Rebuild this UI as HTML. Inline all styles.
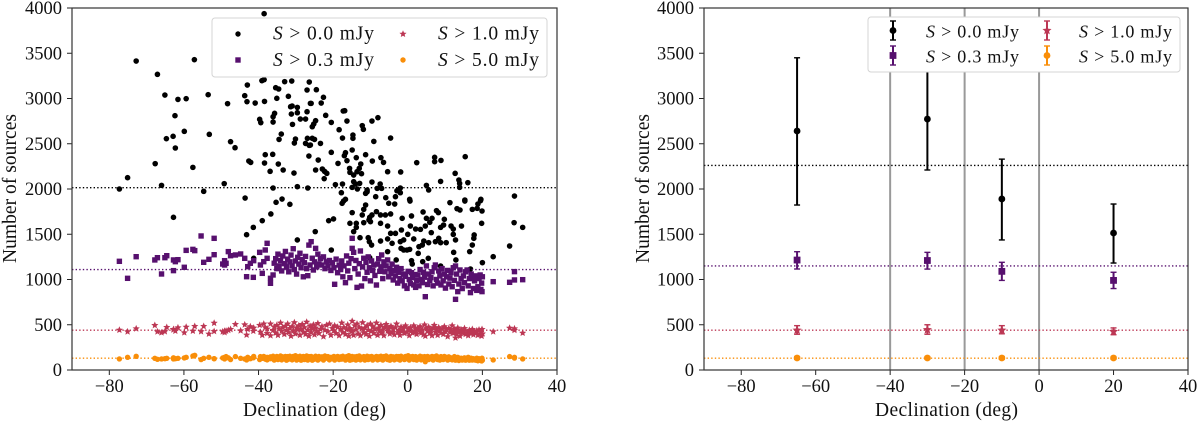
<!DOCTYPE html>
<html>
<head>
<meta charset="utf-8">
<title>Number of sources vs declination</title>
<style>
html,body{margin:0;padding:0;background:#fff;width:1200px;height:424px;overflow:hidden}
svg{display:block}
text{font-family:"Liberation Serif",serif;fill:#111}
</style>
</head>
<body>
<svg id="fig" width="1200" height="424" viewBox="0 0 1200 424" xmlns="http://www.w3.org/2000/svg"></svg>
<script>
// ---------- shared tick labels ----------
const xTicks = [-80,-60,-40,-20,0,20,40];
const yTicks = [0,500,1000,1500,2000,2500,3000,3500,4000];
const seriesNames = ['S > 0.0 mJy','S > 0.3 mJy','S > 1.0 mJy','S > 5.0 mJy'];
const thresholds = ['0.0','0.3','1.0','5.0'];
const seriesColors = ['#000000','#57106e','#bc3754','#f98e09'];

// ---------- left panel: black series ----------
const blackDec = [
-38.5,-72.8,-57.2,-67.1,-65.1,-61.6,-59.4,-53.5,-48.3,-43.7,
-43.1,-40.9,-38.4,-43,-39.1,-38.5,-33,-31.1,-26.4,-35.4,
-34.6,-27,-32,-35.1,-26.1,-31.4,-31,-29.6,-29.6,-31.2,
-27,-35.7,-36.1,-36.1,-39.7,-39.4,-28.8,-27.4,-30.9,-62.4,
-59.9,-62.9,-64.7,-62.3,-53.2,-47.5,-46.3,-33.9,-34.5,-26.9,
-30.1,-30.4,-27.4,-26.4,-38.2,-36.2,-26.5,-67.7,-42.6,-42.1,
-38.4,-34.7,-33.4,-36.9,-30.5,-57.6,-75.1,-66,-49.2,-77.3,
-54.7,-36.1,-29.6,-26.8,-43.6,-33.7,-62.8,-35.3,-31.6,-36.7,
-39,-41.4,-43.2,-41.3,-29.6,-24.5,-22.6,-25.9,-23.2,-22,
-20.5,-17.3,-16.9,-16.3,-24.7,-25.2,-25.6,-18.4,-12.2,-11.9,
-9.6,-8,-14.7,-14.7,-17.5,-4.6,-9.1,-25.6,-25,-26.1,
-23.4,-24,-20.5,-14.9,-16.7,-17,-13.8,-11.3,-7.2,-6.5,
-9.5,-16.3,-18.7,2.4,7.2,7.2,8.9,15.4,-12.6,-15.6,
-15.5,-24.7,-22.9,-22.3,-21.7,-22.4,-13,-13.6,-12.4,-14.5,
-5.4,-1.9,12.7,8.8,13.7,13.9,13.9,16.1,-9.6,-19.4,
-17.5,-14.5,-14,-12.9,-14.9,-13.5,-7.4,-8.2,-7,5,
5.6,-2,-2.9,-2,-10.9,-11.3,-17.8,28.6,-8.6,-5.9,
-3.3,0.5,15.3,19.6,-16.7,-10.9,-17.2,-17.6,-11.3,-11.8,
-5.1,-3.5,0.6,11.3,15.3,13.2,14,17.3,18.8,19.5,
18.6,19.9,-14.9,-8.4,-9.6,-10.2,-12.2,-7.3,-6,-4.6,
4.1,7.7,8.2,1,-1.5,6.5,5.9,-21.2,-19.9,-15.5,
-13.8,-11.8,-10.4,-10,-7.3,-5.4,0.7,2.1,3.4,5,
4.7,9.8,9.6,14.4,19.8,11.6,12.2,-13.8,-14.5,-24.8,
-1.7,6.3,8.8,17.8,17.7,17.3,16.6,12.2,12.8,-12.8,
-10.6,-10.3,-9.7,-7.3,-5.4,-4.6,-3.3,-4.2,-2,-1.1,
0,1.6,4.3,5.6,7.4,8.3,8.8,10.3,3.9,3,
-1.8,-0.2,-1.1,0.5,2.8,12.3,12.9,-20.5,-5.4,27.3,
28.5,30.8,22.9,20,-3.1,1,1.2,5.5,4,8.8,
-10.2,16.8];
const blackCounts = [
3937,3414,3429,3267,3038,2990,2998,3042,2943,3031,
2965,2950,2968,3149,3197,3208,3186,3193,3182,3119,
3105,3094,3024,3002,2946,2909,2917,2902,2843,2828,
2854,2836,2799,2740,2770,2733,2773,2773,2714,2810,
2637,2582,2556,2453,2604,2523,2456,2607,2548,2560,
2552,2508,2504,2482,2379,2383,2364,2280,2309,2294,
2287,2276,2210,2195,2176,2239,2125,2040,2059,2000,
1974,2011,2026,2011,1900,1889,1687,1853,1831,1724,
1650,1576,1495,1234,1437,3097,3013,2946,2950,2814,
2736,2862,2865,2751,2755,2718,2688,2655,2700,2659,
2751,2788,2596,2560,2563,2563,2526,2560,2548,2486,
2504,2320,2405,2431,2401,2368,2346,2379,2346,2294,
2309,2313,2283,2291,2350,2302,2316,2357,2276,2228,
2184,2210,2221,2195,2173,2114,2228,2191,2169,2154,
2191,2188,2173,2084,2099,2062,2018,2070,2077,2048,
2055,2081,2055,2062,2018,2000,2055,2007,2007,2040,
1989,2011,1981,1959,1989,1952,1959,1922,1915,1904,
1915,1886,1878,1886,1886,1970,1867,1842,1823,1775,
1842,1834,1867,1849,1867,1783,1768,1775,1834,1871,
1786,1757,1739,1750,1713,1687,1713,1713,1713,1724,
1746,1761,1739,1702,1676,1676,1632,1650,1669,1621,
1621,1628,1658,1639,1621,1591,1591,1558,1554,1676,
1591,1665,1602,1591,1621,1591,1558,1576,1529,1529,
1547,1518,1576,1492,1455,1381,1308,1499,1437,1462,
1462,1418,1381,1425,1448,1510,1510,1400,1418,1437,
1499,1448,1425,1407,1418,1455,1407,1407,1381,1363,
1344,1326,1326,1333,1289,1300,1216,1326,1308,1370,
1628,1576,1252,1186,1216,1208,1171,1234,1197,1149,
1241,1116];

// ---------- left panel: purple, red and orange series ----------
const bandDec = [
-77.3,-75.1,-72.8,-67.8,-67.1,-66.0,-65.1,-64.6,-62.8,-62.8,
-62.3,-61.6,-59.9,-59.4,-57.6,-57.1,-55.4,-54.7,-53.3,-51.9,
-51.9,-49.6,-49.1,-49.1,-48.7,-48.1,-47.5,-46.2,-44.8,-43.7,
-43.2,-42.9,-42.2,-41.4,-41.3,-39.7,-39.5,-39.0,-38.6,-38.2,
-37.7,-37.7,-36.8,-36.8,-36.1,-35.8,-35.4,-35.1,-34.8,-34.5,
-34.1,-33.8,-33.5,-33.1,-32.8,-32.5,-32.2,-31.9,-31.6,-31.3,
-31.0,-30.7,-30.4,-30.1,-29.8,-29.5,-29.2,-28.9,-28.6,-28.3,
-28.0,-27.7,-27.4,-27.1,-26.8,-26.5,-26.2,-25.9,-25.6,-25.3,
-25.0,-24.7,-24.4,-24.1,-23.8,-23.4,-23.0,-22.6,-22.2,-21.8,
-21.4,-21.0,-20.6,-20.2,-19.8,-19.6,-19.2,-18.8,-18.4,-18.0,
-17.7,-17.4,-17.1,-16.7,-16.4,-16.1,-15.8,-15.5,-15.2,-14.9,
-14.9,-14.5,-14.2,-13.9,-13.6,-13.3,-13.0,-12.7,-12.4,-12.1,
-11.8,-11.5,-11.2,-10.9,-10.6,-10.3,-10.0,-9.7,-9.4,-9.1,
-8.8,-8.4,-8.1,-7.8,-7.5,-7.2,-7.0,-6.7,-6.4,-6.1,
-5.8,-5.4,-5.1,-4.8,-4.5,-4.2,-3.9,-3.6,-3.3,-3.0,
-2.7,-2.4,-2.1,-1.8,-1.5,-1.2,-0.9,-0.6,-0.2,0.1,
0.4,0.7,1.0,1.3,1.6,1.9,2.1,2.4,2.7,3.0,
3.3,3.6,3.9,4.2,4.5,4.7,5.0,5.3,5.6,5.9,
6.2,6.5,6.8,7.1,7.4,7.7,8.0,8.3,8.6,8.9,
9.2,9.5,9.8,10.1,10.4,10.7,11.0,11.3,11.6,11.9,
12.2,12.5,12.8,12.8,13.1,13.4,13.7,14.0,14.3,14.6,
14.9,15.2,15.5,15.9,16.2,16.5,16.8,17.0,17.3,17.6,
17.9,18.2,18.5,18.8,19.1,19.4,19.6,19.8,19.9,20.0,
22.9,27.3,28.6,28.6,30.8];
const purpleCounts = [
1201,1013,1252,1216,1241,1061,1241,1263,1216,1098,
1197,1219,1135,1322,1333,1319,1481,1190,1223,1455,
1274,1171,1160,1208,1179,1308,1263,1271,1282,1234,
1031,1142,1179,1024,1208,1300,1160,1068,1197,1326,
1400,1234,1013,958,1050,1180,1230,1120,1280,1150,
1210,1095,1260,1175,1310,1140,1225,1085,1195,1270,
1150,1340,1110,1205,1060,1245,1170,1290,1130,1220,
1030,1185,1255,1120,1042,1380,1160,1418,1235,1105,
1195,1344,1140,1280,1170,1230,1160,1250,1120,1195,
1150,1210,1100,1185,1130,947,1225,1075,1160,1110,
1205,1030,1150,965,1260,1095,1180,1020,1230,1344,
1455,1300,1120,1210,913,1060,1175,1315,928,1140,
1235,1010,1190,1080,1250,1130,985,1205,1100,1160,
1045,939,1170,1230,1090,1140,1271,1010,1195,1085,
1150,1216,1030,1120,1065,1170,995,1100,1040,1135,
960,1080,1010,1120,985,1060,930,1035,902,1090,
1000,955,1075,1020,940,1055,913,990,1050,930,
1110,1000,965,1080,1025,810,1150,945,1060,990,
1020,1085,930,1130,1160,1000,960,1095,1040,940,
1120,985,1060,905,1030,1100,950,1015,1075,920,
1130,990,1149,781,1060,866,950,1105,1010,900,
1040,965,1085,1105,930,1010,855,1060,1031,900,
985,1040,880,920,1010,1050,890,960,866,1030,
976,969,1087,995,998];
const redCounts = [
442,424,457,494,424,413,425,472,450,445,
431,468,413,475,431,483,425,483,398,519,
427,424,415,430,432,440,450,505,435,501,
387,450,480,430,465,495,420,385,510,470,
405,455,380,510,440,475,410,495,385,455,
520,430,470,395,485,440,510,415,460,375,
480,435,525,400,465,445,490,385,450,505,
420,470,395,530,440,375,485,415,455,500,
390,465,430,515,405,450,480,370,440,495,
425,510,385,460,435,490,405,475,380,450,
520,415,470,395,445,500,375,460,425,540,
430,385,490,445,510,400,470,380,455,525,
415,465,395,490,440,375,510,430,480,405,
450,520,385,465,425,495,410,445,380,475,
505,430,460,400,485,420,450,390,470,510,
415,440,385,475,430,460,405,490,420,450,
380,470,435,410,490,425,455,395,465,435,
480,410,445,390,500,375,460,430,475,405,
440,380,465,495,420,450,385,470,435,410,
455,395,480,425,445,370,460,415,435,490,
405,450,355,430,395,465,420,375,445,410,
430,460,395,415,380,440,405,425,450,390,
420,405,435,385,445,395,420,375,450,400,
424,464,457,440,409];
const orangeCounts = [
122,140,151,129,118,122,125,129,122,135,
125,129,133,140,155,162,115,129,140,125,
125,133,140,122,148,135,115,148,129,122,
111,140,125,135,150,115,148,129,150,120,
140,112,146,125,152,110,140,150,115,135,
155,112,145,125,150,108,148,120,152,135,
112,150,130,158,110,145,120,152,108,140,
150,115,135,155,110,148,125,150,108,140,
120,152,135,110,150,125,145,110,155,130,
148,112,140,125,150,110,135,150,115,145,
120,152,130,110,148,125,158,108,140,115,
150,130,145,110,150,120,155,112,140,125,
148,110,135,152,115,145,125,150,110,140,
130,150,112,145,120,152,130,110,148,125,
155,115,140,108,150,125,145,112,135,150,
120,148,110,152,130,140,115,150,125,158,
110,145,125,150,115,135,148,110,140,130,
152,112,145,125,148,92,135,150,115,140,
125,150,110,145,130,155,115,140,110,148,
130,115,150,125,140,110,145,120,135,112,
125,148,108,135,115,140,105,125,130,110,
120,135,108,125,140,108,120,130,110,125,
115,108,130,102,125,110,120,100,130,108,
111,148,140,132,122];
const leftMeans = [2015,1110,440,130];

// ---------- right panel: binned means with error bars ----------
const binDec = [-65,-30,-10,20];
const rightMeans = [2260,1150,440,130];
const binValues = [[2641,2773,1890,1514],[1215,1210,1090,990],[440,445,440,425],[133,133,133,133]];
const binLower = [[1823,2210,1437,1182],[1116,1115,990,900],[395,395,400,390],[118,118,118,118]];
const binUpper = [[3450,3400,2330,1834],[1307,1300,1190,1080],[490,500,490,465],[148,148,148,148]];
const dividerDec = [-40,-20,0];

// ---------- drawing ----------
const NS = 'http://www.w3.org/2000/svg';
const svg = document.getElementById('fig');
function mk(tag, attrs, parent){
  const e = document.createElementNS(NS, tag);
  for (const k in attrs) e.setAttribute(k, attrs[k]);
  (parent || svg).appendChild(e);
  return e;
}
function scales(left, right){
  const top = 8, bottom = 370;
  return {
    left, right, top, bottom,
    x: d => left + (d + 90) * (right - left) / 130,
    y: v => bottom - v * (bottom - top) / 4000
  };
}
function starPoints(cx, cy, R){
  const p = [];
  for (let i = 0; i < 10; i++){
    const r = i % 2 ? R * 0.45 : R;
    const a = -Math.PI / 2 + i * Math.PI / 5;
    p.push((cx + r * Math.cos(a)).toFixed(2) + ',' + (cy + r * Math.sin(a)).toFixed(2));
  }
  return p.join(' ');
}
function marker(kind, cx, cy, size, parent){
  let e;
  if (kind === 0 || kind === 3){
    e = mk('circle', {cx, cy, r: size, fill: seriesColors[kind]}, parent);
  } else if (kind === 1){
    const s = size * 2;
    e = mk('rect', {x: cx - s / 2, y: cy - s / 2, width: s, height: s, fill: seriesColors[1]}, parent);
  } else {
    e = mk('polygon', {points: starPoints(cx, cy, size * 1.4), fill: seriesColors[2]}, parent);
  }
  return e;
}
function drawAxes(s, panel, titleX, labelStart){
  const g = mk('g', {});
  
  
  xTicks.forEach(t => {
    const px = s.x(t);
    const tick = mk('line', {x1: px, x2: px, y1: s.bottom, y2: s.bottom + 5, stroke: '#222', 'stroke-width': 1}, g);
    
    
    const lab = mk('text', {x: px, y: 392, 'text-anchor': 'middle', 'font-size': 18.5}, g);
    
    
    lab.textContent = (t < 0 ? '\u2212' + (-t) : '' + t);
  });
  yTicks.forEach(t => {
    const py = s.y(t);
    const tick = mk('line', {x1: s.left - 5, x2: s.left, y1: py, y2: py, stroke: '#222', 'stroke-width': 1}, g);
    
    
    const lab = mk('text', {x: s.left - 10, y: py + 6, 'text-anchor': 'end', 'font-size': 18.5}, g);
    
    
    lab.textContent = '' + t;
  });
  const frame = mk('rect', {x: s.left, y: s.top, width: s.right - s.left, height: s.bottom - s.top, fill: 'none', stroke: '#333', 'stroke-width': 1.2}, g);
  
  
  const xt = mk('text', {x: labelStart, y: 416, 'font-size': 19.5, textLength: 143, lengthAdjust: 'spacing'}, g);
  
  
  xt.textContent = 'Declination (deg)';
  const yt = mk('text', {transform: 'translate(' + titleX + ',263) rotate(-90)', 'font-size': 19.5, textLength: 149, lengthAdjust: 'spacing'}, g);
  
  
  yt.textContent = 'Number of sources';
}
function legendText(parent, x, y, idx, size, len){
  const t = mk('text', {x, y, 'font-size': size, textLength: len, lengthAdjust: 'spacing'}, parent);
  
  
  const a = mk('tspan', {'font-style': 'italic'}, t);
  a.textContent = 'S';
  const b = mk('tspan', {}, t);
  b.textContent = ' > ' + thresholds[idx] + ' mJy';
}
function hlines(s, means, panel){
  means.forEach((m, i) => {
    const l = mk('line', {x1: s.left, x2: s.right, y1: s.y(m), y2: s.y(m), stroke: seriesColors[i], 'stroke-width': 1.4, 'stroke-dasharray': '1.4 2.2'});
    
    
  });
}

// left panel
const L = scales(72, 557);
const scatterSets = [[blackDec, blackCounts], [bandDec, purpleCounts], [bandDec, redCounts], [bandDec, orangeCounts]];
scatterSets.forEach((set, k) => {
  const g = mk('g', {});
  
  
  set[0].forEach((d, i) => {
    const m = marker(k, L.x(d), L.y(set[1][i]), k === 0 ? 2.8 : 2.7, g);
    
    
  });
});
hlines(L, leftMeans, 'left');
drawAxes(L, 'left', 16, 243);
const legL = mk('g', {});


const boxL = mk('rect', {x: 212, y: 18, width: 335, height: 59, rx: 3, fill: '#fff', 'fill-opacity': 1, stroke: '#d4d4d4', 'stroke-width': 1}, legL);


[[238,34,273,39.5],[238,60,273,66],[403,34,438,39.5],[403,60,438,66]].forEach((p, i) => {
  const m = marker(i, p[0], p[1], 2.7, legL);
  
  
  legendText(legL, p[2], p[3], i, 19.5, 101);
});

// right panel
const R = scales(704, 1188);
dividerDec.forEach(d => {
  const l = mk('line', {x1: R.x(d), x2: R.x(d), y1: R.top, y2: R.bottom, stroke: '#999', 'stroke-width': 2});
  
  
});
hlines(R, rightMeans, 'right');
binValues.forEach((vals, k) => {
  const g = mk('g', {});
  
  
  vals.forEach((v, i) => {
    const px = R.x(binDec[i]);
    const lo = R.y(binLower[k][i]), hi = R.y(binUpper[k][i]);
    const c = seriesColors[k];
    const bar = mk('line', {x1: px, x2: px, y1: lo, y2: hi, stroke: c, 'stroke-width': 2}, g);
    
    
    [lo, hi].forEach(yy => {
      const cap = mk('line', {x1: px - 3, x2: px + 3, y1: yy, y2: yy, stroke: c, 'stroke-width': 1.4}, g);
      
      
    });
    const m = marker(k, px, R.y(v), 3.4, g);
    
    
  });
});
drawAxes(R, 'right', 649, 875);
const legR = mk('g', {});


const boxR = mk('rect', {x: 868, y: 17, width: 312, height: 55, rx: 3, fill: '#fff', 'fill-opacity': 1, stroke: '#d4d4d4', 'stroke-width': 1}, legR);


[[893,30.5,926,37.5],[893,55.5,926,62.5],[1047,30.5,1079,37.5],[1047,55.5,1079,62.5]].forEach((p, i) => {
  const c = seriesColors[i];
  const bar = mk('line', {x1: p[0], x2: p[0], y1: p[1] - 9.5, y2: p[1] + 9.5, stroke: c, 'stroke-width': 2}, legR);
  
  
  [p[1] - 9.5, p[1] + 9.5].forEach(yy => {
    const cap = mk('line', {x1: p[0] - 3, x2: p[0] + 3, y1: yy, y2: yy, stroke: c, 'stroke-width': 1.4}, legR);
    
    
  });
  const m = marker(i, p[0], p[1], 3.4, legR);
  
  
  legendText(legR, p[2], p[3], i, 18, 93);
});
</script>
</body>
</html>
